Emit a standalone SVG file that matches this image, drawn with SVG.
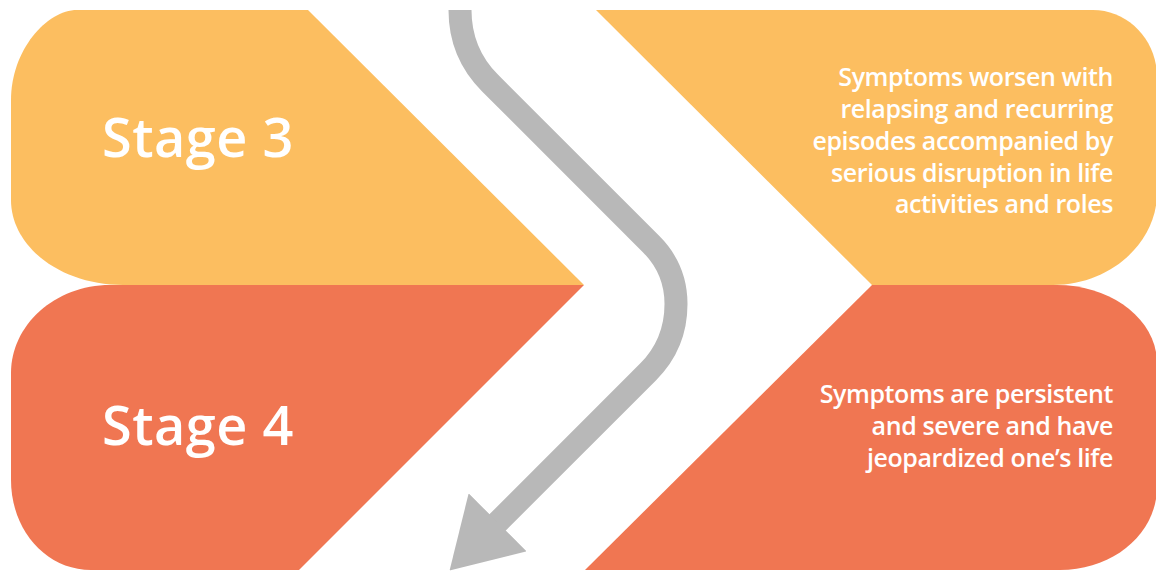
<svg xmlns="http://www.w3.org/2000/svg" width="1156" height="573" viewBox="0 0 1156 573">
<style>
.y{fill:#FCBE60}
.o{fill:#F07652}
.stage{font-family:"Open Sans","Noto Sans",sans-serif;font-weight:600;font-size:54px;fill:#fff;letter-spacing:0.5px}
.desc{font-family:"Open Sans","Noto Sans",sans-serif;font-weight:600;font-size:25px;fill:#fff;text-anchor:end;letter-spacing:-0.4px}
.conn{fill:none;stroke:#B8B8B8;stroke-width:23}
</style>
<defs>
<marker id="ah" viewBox="0 -41 68 82" markerWidth="68" markerHeight="82" markerUnits="userSpaceOnUse" refX="8" refY="0" orient="auto">
<path d="M0,-41 L68,0 L0,41 Z" fill="#B8B8B8"/>
</marker>
</defs>
<rect width="1156" height="573" fill="#fff"/>
<g id="stage3">
<path class="y" d="M77,10 L308,10 L584,285 L123,285 C61,285 11,247 11,200 L11,100 C11,50 47,10 77,10 Z"/>
<text class="stage" x="102" y="157">Stage 3</text>
</g>
<g id="stage3-desc">
<path class="y" d="M596,10 L1093,10 C1128,10 1157,40 1157,77 L1157,193 C1157,243 1110,285 1053,285 L872,285 Z"/>
<text class="desc"><tspan x="1113" y="86">Symptoms worsen with</tspan><tspan x="1113" y="118">relapsing and recurring</tspan><tspan x="1113" y="150">episodes accompanied by</tspan><tspan x="1113" y="182">serious disruption in life</tspan><tspan x="1113" y="213">activities and roles</tspan></text>
</g>
<g id="stage4">
<path class="o" d="M110,285 L584,285 L299,570 L91,570 C46,570 11,530 11,480 L11,373 C11,325 55,285 110,285 Z"/>
<text class="stage" x="102" y="445">Stage 4</text>
</g>
<g id="stage4-desc">
<path class="o" d="M872,285 L1057,285 C1112,285 1157,320 1157,363 L1157,487 C1157,533 1114,570 1060,570 L585,570 Z"/>
<text class="desc"><tspan x="1113" y="403">Symptoms are persistent</tspan><tspan x="1113" y="435">and severe and have</tspan><tspan x="1113" y="467">jeopardized one’s life</tspan></text>
</g>
<g id="connectors">
<path class="conn" marker-end="url(#ah)" d="M460,10 Q460,53 490,83 L651,244 Q676,269 676,304 Q676,344 648,372 L492,528"/>
</g>
</svg>
